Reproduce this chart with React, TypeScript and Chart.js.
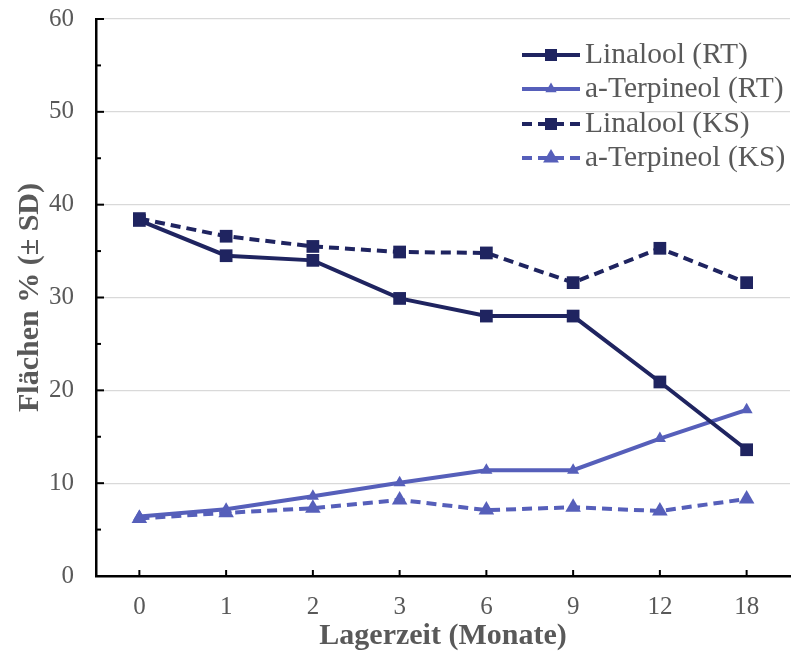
import React, { useEffect, useRef } from "react";
import { Chart, registerables } from "chart.js";

Chart.register(...registerables);

const categories = ["0", "1", "2", "3", "6", "9", "12", "18"];
const linaloolRT = [38.3, 34.5, 34.0, 29.9, 28.0, 28.0, 20.9, 13.6];
const terpineolRT = [6.4, 7.2, 8.6, 10.05, 11.4, 11.4, 14.8, 17.9];
const linaloolKS = [38.5, 36.6, 35.5, 34.9, 34.8, 31.6, 35.3, 31.6];
const terpineolKS = [6.2, 6.8, 7.3, 8.2, 7.1, 7.4, 7.0, 8.3];
const yMajorTicks = [0, 10, 20, 30, 40, 50, 60];
const yMinorTicks = [5, 15, 25, 35, 45, 55];

const DARK = "#1f2460";
const LIGHT = "#565fba";
const TEXT = "#595959";
const FONT = "'Liberation Serif', 'Times New Roman', serif";

const legendItems = [
  { label: "Linalool (RT)", color: DARK, dash: [] as number[], shape: "rect", size: 6 },
  { label: "a-Terpineol (RT)", color: LIGHT, dash: [] as number[], shape: "triangle", size: 5 },
  { label: "Linalool (KS)", color: DARK, dash: [10, 6], shape: "rect", size: 6 },
  { label: "a-Terpineol (KS)", color: LIGHT, dash: [10, 6], shape: "triangle", size: 7 },
];

const ticksPlugin = {
  id: "insideTicks",
  afterDatasetsDraw(chart: any) {
    const { ctx } = chart;
    const y = chart.scales.y;
    const x = chart.scales.x;
    const left = chart.chartArea.left;
    const bottom = chart.chartArea.bottom;
    ctx.save();
    ctx.strokeStyle = "#000";
    ctx.lineWidth = 2;
    yMajorTicks.forEach((v) => {
      const py = y.getPixelForValue(v);
      ctx.beginPath();
      ctx.moveTo(left, py);
      ctx.lineTo(left + 8, py);
      ctx.stroke();
    });
    yMinorTicks.forEach((v) => {
      const py = y.getPixelForValue(v);
      ctx.beginPath();
      ctx.moveTo(left, py);
      ctx.lineTo(left + 5, py);
      ctx.stroke();
    });
    categories.forEach((_, i) => {
      const px = x.getPixelForValue(i);
      ctx.beginPath();
      ctx.moveTo(px, bottom);
      ctx.lineTo(px, bottom - 6);
      ctx.stroke();
    });
    ctx.restore();
  },
};

const legendPlugin = {
  id: "customLegend",
  afterDraw(chart: any) {
    const { ctx } = chart;
    const rows = [55, 89, 124, 158];
    const x0 = 522;
    const x1 = 580;
    const cx = (x0 + x1) / 2;
    ctx.save();
    legendItems.forEach((it, i) => {
      const ry = rows[i];
      ctx.strokeStyle = it.color;
      ctx.lineWidth = 4;
      ctx.setLineDash(it.dash);
      ctx.beginPath();
      ctx.moveTo(x0, ry);
      ctx.lineTo(x1, ry);
      ctx.stroke();
      ctx.setLineDash([]);
      ctx.fillStyle = it.color;
      ctx.beginPath();
      if (it.shape === "rect") {
        ctx.rect(cx - it.size, ry - it.size, it.size * 2, it.size * 2);
      } else {
        const r = it.size * 1.3;
        ctx.moveTo(cx, ry - r);
        ctx.lineTo(cx + r * 0.87, ry + r * 0.5);
        ctx.lineTo(cx - r * 0.87, ry + r * 0.5);
        ctx.closePath();
      }
      ctx.fill();
      ctx.fillStyle = TEXT;
      ctx.font = `29.5px ${FONT}`;
      ctx.textBaseline = "middle";
      ctx.textAlign = "left";
      ctx.fillText(it.label, x1 + 5, ry);
    });
    ctx.restore();
  },
};

export default function App() {
  const ref = useRef<HTMLCanvasElement | null>(null);

  useEffect(() => {
    document.body.style.margin = "0";
    const canvas = ref.current;
    if (!canvas) return;
    const chart = new Chart(canvas, {
      type: "line",
      data: {
        labels: categories,
        datasets: [
          {
            label: "Linalool (RT)",
            data: linaloolRT,
            borderColor: DARK,
            backgroundColor: DARK,
            borderWidth: 4,
            pointStyle: "rect",
            pointRadius: 9,
            pointBorderWidth: 0,
            tension: 0,
          },
          {
            label: "a-Terpineol (RT)",
            data: terpineolRT,
            borderColor: LIGHT,
            backgroundColor: LIGHT,
            borderWidth: 4,
            pointStyle: "triangle",
            pointRadius: 7,
            pointBorderWidth: 0,
            tension: 0,
          },
          {
            label: "Linalool (KS)",
            data: linaloolKS,
            borderColor: DARK,
            backgroundColor: DARK,
            borderWidth: 4,
            borderDash: [10, 6],
            pointStyle: "rect",
            pointRadius: 9,
            pointBorderWidth: 0,
            tension: 0,
          },
          {
            label: "a-Terpineol (KS)",
            data: terpineolKS,
            borderColor: LIGHT,
            backgroundColor: LIGHT,
            borderWidth: 4,
            borderDash: [10, 6],
            pointStyle: "triangle",
            pointRadius: 9,
            pointBorderWidth: 0,
            tension: 0,
          },
        ],
      },
      options: {
        responsive: false,
        animation: false,
        layout: { autoPadding: false, padding: { top: 19, right: 1, left: 0, bottom: 0 } },
        plugins: {
          legend: { display: false },
          tooltip: { enabled: false },
        },
        scales: {
          x: {
            type: "category",
            offset: true,
            grid: { display: false, drawTicks: false },
            border: { color: "#000", width: 2.5 },
            ticks: {
              color: TEXT,
              font: { family: FONT, size: 25 },
              padding: 16,
              maxRotation: 0,
            },
            title: {
              display: true,
              text: "Lagerzeit (Monate)",
              color: TEXT,
              font: { family: FONT, size: 30, weight: "bold" },
              padding: { top: 0, bottom: 0 },
            },
            afterFit(scale: any) {
              scale.height = 78;
              scale.paddingLeft = 0;
              scale.paddingRight = 0;
            },
          },
          y: {
            min: 0,
            max: 60,
            grid: { color: "#d9d9d9", lineWidth: 1.2, drawTicks: false },
            border: { color: "#000", width: 2.5 },
            ticks: {
              stepSize: 10,
              color: TEXT,
              font: { family: FONT, size: 25 },
              padding: 22,
            },
            title: {
              display: true,
              text: "Flächen % (± SD)",
              color: TEXT,
              font: { family: FONT, size: 30, weight: "bold" },
              padding: { top: 12, bottom: 0 },
            },
            afterFit(scale: any) {
              scale.width = 96;
              scale.paddingTop = 0;
              scale.paddingBottom = 0;
            },
          },
        },
      },
      plugins: [ticksPlugin, legendPlugin],
    } as any);
    return () => chart.destroy();
  }, []);

  return (
    <div style={{ position: "absolute", left: 0, top: 0, width: 791, height: 654, background: "#fff" }}>
      <canvas ref={ref} width={791} height={654} style={{ display: "block", width: 791, height: 654 }} />
    </div>
  );
}
